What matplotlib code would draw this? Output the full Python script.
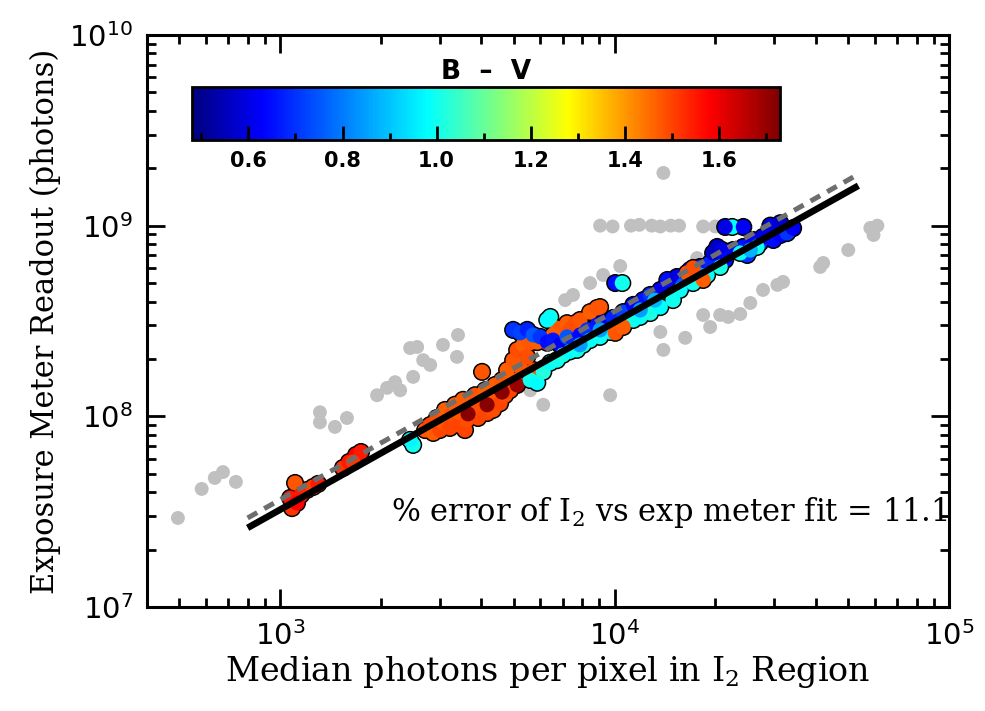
import numpy as np
import matplotlib
matplotlib.use("Agg")
import matplotlib.pyplot as plt
from matplotlib.colors import LinearSegmentedColormap
from matplotlib.ticker import LogLocator, MultipleLocator, NullFormatter

plt.rcParams["mathtext.fontset"] = "dejavuserif"

# gray points (not used in the fit)
gris_x = [495, 583, 638, 675, 738, 1316, 1316, 1459, 1585,
          1950, 2089, 2208, 2286, 2449, 2570, 2679, 2500, 2812, 3070, 3381, 3405,
          5598, 6123, 9705,
          7120, 7516, 8453, 9247, 10400,
          13710, 14000, 16270, 17660,
          18410, 19320, 20700, 21880, 23770, 25470, 27800, 30690, 31920,
          14000,
          9057, 9870, 11200, 11860, 12920, 13710, 14730, 15600, 18410, 20000,
          42070, 41200, 50000, 58200, 61100, 59500]
gris_y = [2.93e7, 4.16e7, 4.75e7, 5.1e7, 4.53e7, 1.05e8, 9.3e7, 8.8e7, 9.8e7,
          1.29e8, 1.41e8, 1.51e8, 1.37e8, 2.28e8, 2.31e8, 1.97e8, 1.61e8, 1.86e8, 2.37e8, 2.05e8, 2.67e8,
          1.37e8, 1.15e8, 1.29e8,
          4.07e8, 4.33e8, 5.0e8, 5.51e8, 6.14e8,
          2.77e8, 2.23e8, 2.58e8, 6.76e8,
          3.4e8, 2.94e8, 3.4e8, 3.32e8, 3.44e8, 3.93e8, 4.6e8, 4.89e8, 5.07e8,
          1.89e9,
          1.0e9, 9.9e8, 1.0e9, 1.01e9, 1.0e9, 9.9e8, 1.0e9, 1.0e9, 9.9e8, 9.9e8,
          6.37e8, 6.07e8, 7.45e8, 9.73e8, 1.0e9, 8.93e8]

# coloured points: x, y, B-V
pts_x = [1086, 1072, 1109, 1156, 1205, 1256, 1300, 1124,
         1542, 1607, 1687, 1746, 1652,
         2500, 2449,
         2716, 2812, 2871, 2944, 3006, 3070, 3113, 3221, 3266, 3334, 3405, 3451, 3524,
         3573, 3622, 3698, 3828, 3908, 3963, 4102, 4159, 4246, 4335, 4395, 4550, 4613,
         4710, 4775, 4875, 4977, 5047, 5117, 5224, 5333, 5483, 5598, 5875, 5715, 4018,
         3648, 4159, 4613, 5117,
         6730, 7211, 7621, 7889, 8453, 8872, 7362, 6546, 6295,
         4977, 5224, 5483, 5715, 5998, 6295, 6546, 6871, 7211, 7516, 7889, 8279, 8872,
         9247, 9908, 10620, 11380, 12190, 12790, 13710, 14390, 15380, 16030, 16830,
         18030, 17660, 19320, 19720, 20280, 20990, 21430, 22650, 24270, 24950, 25940,
         27230, 27800, 29850, 31330, 32810,
         5598, 5875, 6123, 6427, 6730, 7015, 7362, 7727, 8054, 8453, 9057, 9705, 10400,
         11380, 11940, 12790, 13710, 14960, 15700, 17180, 18920, 20700, 23770, 26670,
         6427, 6295,
         9057, 11940, 18030, 25470, 7889, 13200,
         10050, 10620, 16480, 17180, 18410, 9057,
         10050, 10550, 22490, 21430, 24270, 29240, 31330, 34200]
pts_y = [3.30e7, 3.73e7, 4.47e7, 3.87e7, 4.11e7, 4.26e7, 4.42e7, 3.51e7,
         5.36e7, 5.76e7, 6.27e7, 6.5e7, 5.76e7,
         7.08e7, 7.52e7,
         8.47e7, 9.01e7, 8.18e7, 9.8e7, 8.47e7, 9.33e7, 1.08e8, 8.69e7, 1.02e8, 1.15e8, 9.01e7, 1.04e8, 1.22e8,
         8.47e7, 9.57e7, 1.15e8, 1.29e8, 9.8e7, 1.12e8, 1.37e8, 1.04e8, 1.22e8, 1.08e8, 1.46e8, 1.17e8, 1.55e8,
         1.29e8, 1.75e8, 1.37e8, 1.97e8, 1.55e8, 2.23e8, 1.82e8, 2.37e8, 2.05e8, 2.43e8, 2.45e8, 1.75e8, 1.71e8,
         1.03e8, 1.15e8, 1.34e8, 1.46e8,
         2.9e8, 3.08e8, 3.08e8, 3.2e8, 3.52e8, 3.7e8, 2.84e8, 2.67e8, 2.43e8,
         2.84e8, 2.74e8, 2.84e8, 2.67e8, 2.61e8, 2.45e8, 2.51e8, 2.37e8, 2.61e8, 2.51e8, 2.67e8, 2.84e8, 3.01e8,
         3.12e8, 3.28e8, 3.52e8, 3.84e8, 4.07e8, 4.33e8, 4.6e8, 5.19e8, 5.38e8, 4.89e8, 5.85e8,
         6.07e8, 5.38e8, 6.37e8, 7.19e8, 7.73e8, 7.45e8, 6.61e8, 7.45e8, 7.73e8, 7.02e8, 8.41e8,
         8.11e8, 8.73e8, 8.41e8, 8.93e8, 9.14e8,
         1.55e8, 1.50e8, 1.71e8, 1.91e8, 1.97e8, 2.10e8, 2.19e8, 2.23e8, 2.37e8, 2.51e8, 2.61e8, 2.77e8, 2.94e8,
         3.2e8, 3.32e8, 3.48e8, 3.74e8, 4.07e8, 4.6e8, 5.0e8, 5.51e8, 6.07e8, 7.19e8, 7.73e8,
         3.32e8, 3.2e8,
         2.84e8, 3.61e8, 5.51e8, 7.45e8, 2.37e8, 4.07e8,
         2.74e8, 2.94e8, 5.65e8, 6.0e8, 5.19e8, 3.74e8,
         5.0e8, 5.0e8, 9.84e8, 9.84e8, 9.84e8, 1.0e9, 1.03e9, 9.7e8]
pts_bv = [1.52, 1.55, 1.48, 1.55, 1.53, 1.50, 1.55, 1.58,
          1.52, 1.55, 1.58, 1.55, 1.52,
          1.00, 0.97,
          1.48, 1.50, 1.47, 1.49, 1.50, 1.48, 1.47, 1.50, 1.49, 1.47, 1.50, 1.48, 1.47,
          1.50, 1.49, 1.47, 1.48, 1.50, 1.49, 1.47, 1.50, 1.48, 1.49, 1.47, 1.50, 1.48,
          1.49, 1.47, 1.50, 1.48, 1.47, 1.49, 1.48, 1.47, 1.49, 1.48, 1.47, 1.49, 1.48,
          1.72, 1.72, 1.72, 1.70,
          1.48, 1.47, 1.49, 1.48, 1.47, 1.48, 1.49, 1.47, 1.48,
          0.70, 0.72, 0.68, 0.75, 0.70, 0.65, 0.66, 0.62, 0.75, 0.68, 0.64, 0.70, 0.66,
          0.62, 0.68, 0.72, 0.64, 0.66, 0.70, 0.62, 0.65, 0.60, 0.75, 0.62,
          0.66, 0.70, 0.68, 0.57, 0.56, 0.60, 0.64, 0.62, 0.66, 0.70, 0.62,
          0.68, 0.60, 0.65, 0.62, 0.70,
          1.00, 0.98, 1.02, 0.99, 1.00, 1.01, 0.98, 1.00, 1.02, 0.99, 1.00, 0.98, 1.01,
          1.00, 0.99, 1.01, 0.98, 1.00, 0.99, 1.00, 0.98, 1.01, 0.99, 1.00,
          1.00, 0.98,
          0.85, 0.85, 0.85, 0.88, 0.85, 0.88,
          1.48, 1.47, 1.48, 1.49, 1.47, 1.48,
          0.65, 1.00, 0.98, 0.60, 0.62, 0.60, 0.58, 0.62]

# fits
fit_x = [800, 53600]
fit_y = [2.6e7, 1.62e9]
fit2_x = [800, 51800]
fit2_y = [2.93e7, 1.8e9]

bv_min, bv_max = 0.48, 1.73
erreur = 11.1

# table de couleurs façon IDL (bleu -> cyan -> jaune -> rouge)
cmap = LinearSegmentedColormap.from_list("idl", [
    (0.00, (0.0, 0.0, 0.5)),
    (0.12, (0.0, 0.0, 1.0)),
    (0.40, (0.0, 1.0, 1.0)),
    (0.64, (1.0, 1.0, 0.0)),
    (0.88, (1.0, 0.0, 0.0)),
    (1.00, (0.5, 0.0, 0.0)),
])

fig = plt.figure(figsize=(9.85, 7.11), dpi=100)
ax = fig.add_axes([0.1492, 0.1463, 0.8142, 0.8045])

ax.scatter(gris_x, gris_y, s=100, color="#c0c0c0", edgecolors="none", zorder=1)
ax.scatter(pts_x, pts_y, s=170, color="black", edgecolors="none", zorder=2)
sc = ax.scatter(pts_x, pts_y, s=118, c=pts_bv, cmap=cmap, vmin=bv_min, vmax=bv_max,
                edgecolors="none", zorder=3)

ax.plot(fit2_x, fit2_y, color="#6e6e6e", lw=3.6, dashes=(2.2, 1.6), zorder=4)
ax.plot(fit_x, fit_y, color="black", lw=4.8, solid_capstyle="butt", zorder=5)

ax.set_xscale("log")
ax.set_yscale("log")
ax.set_xlim(400, 1e5)
ax.set_ylim(1e7, 1e10)
ax.xaxis.set_minor_locator(LogLocator(base=10, subs=np.arange(2, 10)))
ax.yaxis.set_minor_locator(LogLocator(base=10, subs=np.arange(2, 10)))
ax.xaxis.set_minor_formatter(NullFormatter())
ax.yaxis.set_minor_formatter(NullFormatter())
ax.tick_params(which="both", direction="in", top=True, right=True, width=2)
ax.tick_params(which="major", length=13, labelsize=21, pad=10)
ax.tick_params(which="minor", length=6.5)
for sp in ax.spines.values():
    sp.set_linewidth(2.2)

ax.set_xlabel(r"Median photons per pixel in I$_{2}$ Region", family="DejaVu Serif",
              fontsize=24, labelpad=2)
ax.set_ylabel("Exposure Meter Readout (photons)", family="DejaVu Serif",
              fontsize=22, labelpad=6)

ax.text(0.999, 0.165, r"% error of I$_{2}$ vs exp meter fit = " + f"{erreur:.1f}",
        transform=ax.transAxes, ha="right", va="center", family="DejaVu Serif",
        fontsize=22, zorder=6)

# barre de couleur
cax = fig.add_axes([0.1949, 0.8031, 0.597, 0.0745])
cb = fig.colorbar(sc, cax=cax, orientation="horizontal")
cb.set_ticks([0.6, 0.8, 1.0, 1.2, 1.4, 1.6])
cb.ax.xaxis.set_minor_locator(MultipleLocator(0.1))
cb.ax.tick_params(which="both", direction="in", width=2, labelsize=15, pad=8)
cb.ax.tick_params(which="major", length=10)
cb.ax.tick_params(which="minor", length=5)
for lab in cb.ax.get_xticklabels():
    lab.set_fontweight("bold")
cb.outline.set_linewidth(2)
cb.ax.set_title("B  –  V", fontsize=19, fontweight="bold", pad=6)

fig.savefig("out.png", dpi=100)
